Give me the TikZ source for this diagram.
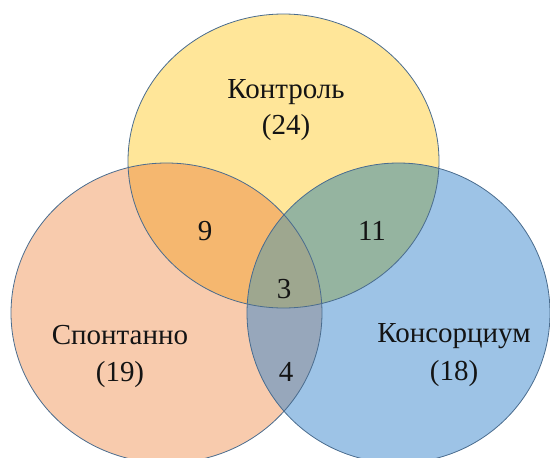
\documentclass[tikz,border=0pt]{standalone}
\usepackage{fontspec}
\setmainfont{LiberationSerif}[Extension=.ttf,UprightFont=*-Regular]
\newfontfamily\vennfont{LiberationSerif}[Extension=.ttf,UprightFont=*-Regular]
\newcommand{\ctrlset}{(283.5,161) ellipse [x radius=155.5,y radius=147]}
\newcommand{\spontset}{(166.5,313) ellipse [x radius=155.5,y radius=150]}
\newcommand{\consset}{(398.5,313) ellipse [x radius=151.5,y radius=150]}
\begin{document}
\begin{tikzpicture}[x=1pt,y=-1pt,
  setedge/.style={draw=edgeblue,line width=0.8pt},
  lbl/.style={anchor=base,inner sep=0pt,font=\vennfont\fontsize{29}{34}\selectfont,text=black!92}]
\definecolor{edgeblue}{HTML}{4A6C8E}
\definecolor{ctrlfill}{HTML}{FFE699}
\definecolor{spontfill}{HTML}{F8CBAD}
\definecolor{consfill}{HTML}{9DC3E6}
\definecolor{ctrlspont}{HTML}{F5B76F}
\definecolor{ctrlcons}{HTML}{95B4A0}
\definecolor{spontcons}{HTML}{97A7BB}
\definecolor{allthree}{HTML}{9EA78F}
\useasboundingbox (0,0) rectangle (550,458);
\clip (0,0) rectangle (550,458);
% single-set areas
\fill[ctrlfill] \ctrlset;
\fill[spontfill] \spontset;
\fill[consfill] \consset;
% pairwise overlaps
\begin{scope}
  \clip \ctrlset;
  \fill[ctrlspont] \spontset;
  \fill[ctrlcons] \consset;
\end{scope}
\begin{scope}
  \clip \spontset;
  \fill[spontcons] \consset;
\end{scope}
% common area of all three sets
\begin{scope}
  \clip \ctrlset;
  \clip \spontset;
  \fill[allthree] \consset;
\end{scope}
% outlines
\draw[setedge] \ctrlset;
\draw[setedge] \spontset;
\draw[setedge] \consset;
% set labels
\node[lbl] (kname) at (286,98) {Контроль};
\node[lbl] (kval) at (286,134) {(24)};
\node[lbl] (sname) at (120,344) {Спонтанно};
\node[lbl] (sval) at (120,381) {(19)};
\node[lbl] (cname) at (454,342) {Консорциум};
\node[lbl] (cval) at (454,380) {(18)};
% overlap counts
\node[lbl] (ks) at (205,240) {9};
\node[lbl] (kc) at (372,240) {11};
\node[lbl] (all) at (284,298) {3};
\node[lbl] (sc) at (286,381) {4};
\end{tikzpicture}
\end{document}
